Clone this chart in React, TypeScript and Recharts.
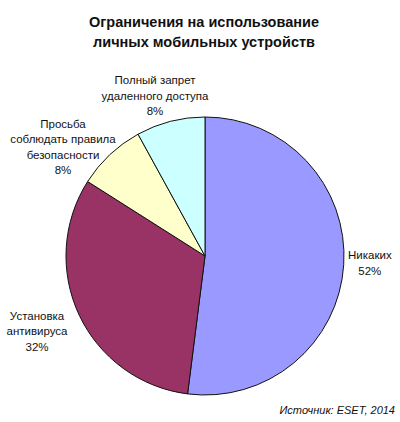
import React from "react";
import { PieChart, Pie, Cell } from "recharts";

const categories = [
  "Никаких",
  "Установка\nантивируса",
  "Просьба\nсоблюдать правила\nбезопасности",
  "Полный запрет\nудаленного доступа",
];
const values = [52, 32, 8, 8];
const colors = ["#9999FF", "#993366", "#FFFFCC", "#CCFFFF"];
const titleLines = ["Ограничения на использование", "личных мобильных устройств"];
const sourceText = "Источник: ESET, 2014";

const data = categories.map((name, i) => ({ name, value: values[i] }));

// polar label placement: distance from centre and angular tweak (degrees, clockwise)
const labelLayout = [
  { r: 165, dA: -1.2 },
  { r: 184, dA: 1.1 },
  { r: 179, dA: -9.3 },
  { r: 168, dA: -2.9 },
];

const FONT = "'Liberation Sans', Arial, sans-serif";
const LH = 15.5;

const renderLabel = (props: any) => {
  const { cx, cy, midAngle, index, value, name } = props;
  const lay = labelLayout[index];
  const theta = ((90 - midAngle + lay.dA) * Math.PI) / 180;
  const x = cx + lay.r * Math.sin(theta);
  const y = cy - lay.r * Math.cos(theta);
  const lines = [...String(name).split("\n"), `${value}%`];
  const y0 = y - ((lines.length - 1) * LH) / 2;
  return (
    <text
      key={`lbl-${index}`}
      x={x}
      y={y0}
      textAnchor="middle"
      fontFamily={FONT}
      fontSize={11.5}
      fill="#111"
    >
      {lines.map((ln, i) => (
        <tspan key={i} x={x} y={y0 + i * LH} dominantBaseline="central">
          {ln}
        </tspan>
      ))}
    </text>
  );
};

export default function App() {
  return (
    <div
      style={{
        position: "absolute",
        left: 0,
        top: 0,
        width: 400,
        height: 422,
        background: "#fff",
        fontFamily: FONT,
      }}
    >
      <div
        style={{
          position: "absolute",
          left: 0,
          top: 12,
          width: 408,
          textAlign: "center",
          fontWeight: "bold",
          fontSize: 14.5,
          lineHeight: "20px",
          color: "#111",
        }}
      >
        {titleLines.map((t, i) => (
          <div key={i}>{t}</div>
        ))}
      </div>
      <PieChart width={400} height={422} style={{ position: "absolute", left: 0, top: 0 }}>
        <Pie
          data={data}
          dataKey="value"
          nameKey="name"
          cx={200}
          cy={251}
          outerRadius={139}
          startAngle={90}
          endAngle={-270}
          stroke="#111"
          strokeWidth={1}
          label={renderLabel}
          labelLine={false}
          isAnimationActive={false}
        >
          {data.map((_, i) => (
            <Cell key={i} fill={colors[i]} />
          ))}
        </Pie>
      </PieChart>
      <div
        style={{
          position: "absolute",
          right: 5,
          top: 404,
          fontStyle: "italic",
          fontSize: 11,
          color: "#111",
        }}
      >
        {sourceText}
      </div>
    </div>
  );
}
